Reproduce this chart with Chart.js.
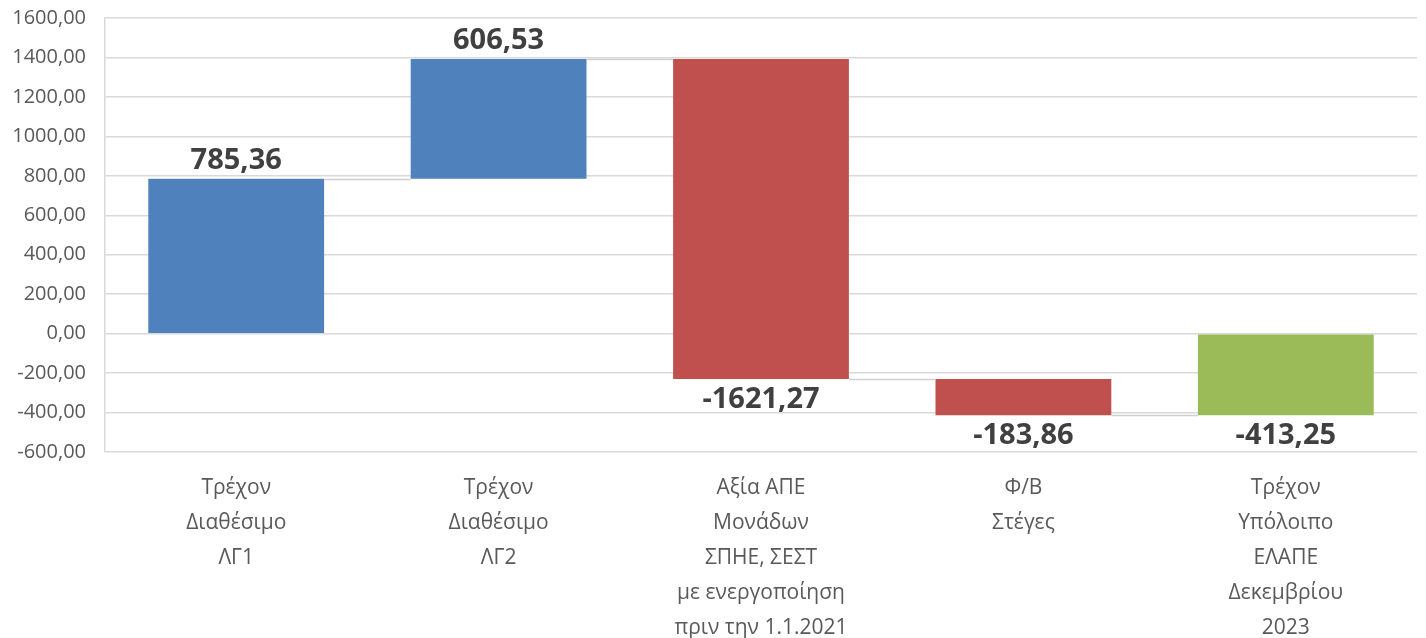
<!DOCTYPE html>
<html>
<head>
<meta charset="utf-8">
<script src="https://cdn.jsdelivr.net/npm/chart.js@4"></script>
<style>
  body { margin: 0; background: #fff; }
  #wrap { width: 1426px; height: 638px; }
</style>
</head>
<body>
<div id="wrap"><canvas id="myChart"></canvas></div>
<script>
// categories (multi-line labels)
const categories = [
    ['Τρέχον', 'Διαθέσιμο', 'ΛΓ1'],
    ['Τρέχον', 'Διαθέσιμο', 'ΛΓ2'],
    ['Αξία ΑΠΕ', 'Μονάδων', 'ΣΠΗΕ, ΣΕΣΤ', 'με ενεργοποίηση', 'πριν την 1.1.2021'],
    ['Φ/Β', 'Στέγες'],
    ['Τρέχον', 'Υπόλοιπο', 'ΕΛΑΠΕ', 'Δεκεμβρίου', '2023']
];
const values = [785.36, 606.53, -1621.27, -183.86, -413.25];
const isTotal = [false, false, false, false, true];
const yTicks = [-600, -400, -200, 0, 200, 400, 600, 800, 1000, 1200, 1400, 1600];

const colUp = '#4F81BD';
const colDown = '#C0504D';
const colTotal = '#9BBB59';

// build floating ranges for the waterfall
const ranges = [];
let running = 0;
values.forEach((v, i) => {
    if (isTotal[i]) {
        ranges.push([0, v]);
        running = v;
    } else {
        ranges.push([running, running + v]);
        running += v;
    }
});
const colors = values.map((v, i) => isTotal[i] ? colTotal : (v >= 0 ? colUp : colDown));

const fmt = (n) => n.toFixed(2).replace('.', ',');

const waterfallPlugin = {
    id: 'waterfall',
    afterDatasetsDraw(chart) {
        const ctx = chart.ctx;
        const meta = chart.getDatasetMeta(0);
        const y = chart.scales.y;
        ctx.save();
        // connector lines
        ctx.strokeStyle = '#d0d0d0';
        ctx.lineWidth = 1.5;
        for (let i = 0; i < meta.data.length - 1; i++) {
            const a = meta.data[i], b = meta.data[i + 1];
            const yy = Math.round(y.getPixelForValue(ranges[i][1])) + 0.5;
            ctx.beginPath();
            ctx.moveTo(a.x + a.width / 2, yy);
            ctx.lineTo(b.x - b.width / 2, yy);
            ctx.stroke();
        }
        // value labels
        ctx.fillStyle = '#404040';
        ctx.font = 'bold 29px "Open Sans"';
        ctx.textAlign = 'center';
        ctx.textBaseline = 'middle';
        meta.data.forEach((bar, i) => {
            const end = y.getPixelForValue(ranges[i][1]);
            const ty = values[i] >= 0 ? end - 18 : end + 21;
            ctx.fillText(fmt(values[i]), bar.x, ty);
        });
        ctx.restore();
    }
};

const ctx = document.querySelector('#myChart');
new Chart(ctx, {
    type: 'bar',
    data: {
        labels: categories,
        datasets: [{
            data: ranges,
            backgroundColor: colors,
            borderWidth: 0,
            categoryPercentage: 1,
            barPercentage: 0.67
        }]
    },
    options: {
        responsive: true,
        maintainAspectRatio: false,
        animation: false,
        layout: { padding: { top: 18, right: 9, left: 0, bottom: 0 } },
        plugins: {
            legend: { display: false },
            tooltip: { enabled: false }
        },
        scales: {
            x: {
                grid: { display: false, drawTicks: false },
                border: { display: false },
                ticks: {
                    color: '#595959',
                    font: { family: 'Open Sans', size: 21, lineHeight: 1.66 },
                    padding: 19,
                    maxRotation: 0,
                    autoSkip: false
                },
                afterFit(scale) {
                    scale.height = 186;
                    scale.paddingLeft = 0;
                    scale.paddingRight = 0;
                }
            },
            y: {
                min: -600,
                max: 1600,
                afterBuildTicks(scale) { scale.ticks = yTicks.map(v => ({ value: v })); },
                grid: { color: '#d9d9d9', lineWidth: 1.5, drawTicks: false },
                border: { display: true, color: '#d9d9d9', width: 1.5 },
                ticks: {
                    color: '#595959',
                    font: { family: 'Open Sans', size: 20 },
                    padding: 19,
                    callback: (v) => fmt(v)
                },
                afterFit(scale) {
                    scale.width = 105;
                    scale.paddingTop = 0;
                    scale.paddingBottom = 0;
                }
            }
        }
    },
    plugins: [waterfallPlugin]
});
</script>
</body>
</html>
